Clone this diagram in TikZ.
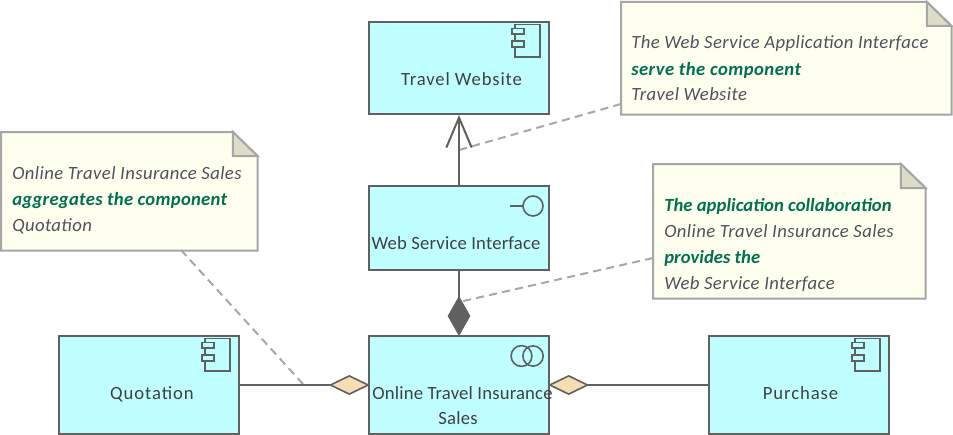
\documentclass[tikz,border=0pt]{standalone}
\usepackage{fontspec}
\setmainfont{Carlito}
\usetikzlibrary{arrows.meta}
\definecolor{boxfill}{HTML}{C0FFFF}
\definecolor{edge}{HTML}{606060}
\definecolor{notefill}{HTML}{FFFFF0}
\definecolor{noteedge}{HTML}{A6A6A6}
\definecolor{foldfill}{HTML}{DCDCC8}
\definecolor{dashc}{HTML}{A8A8A8}
\definecolor{ink}{HTML}{404040}
\definecolor{noteink}{HTML}{505060}
\definecolor{greenink}{HTML}{00704F}
\definecolor{diafill}{HTML}{F7DDB2}
\tikzset{
  x=0.75pt,y=-0.75pt,
  elem/.style={draw=edge,fill=boxfill,line width=1.5pt,rectangle,inner sep=0pt,minimum width=135pt},
  lbl/.style={text=ink,inner sep=0pt,anchor=base,font=\fontsize{14pt}{17pt}\selectfont\addfontfeature{LetterSpace=#1}},
  notebody/.style={rectangle,inner sep=0pt,anchor=north west},
  notetext/.style={anchor=base west,inner sep=0pt,text=noteink,font=\fontsize{14pt}{17pt}\selectfont\itshape\addfontfeature{LetterSpace=2.2}},
  notegreen/.style={anchor=base west,inner sep=0pt,text=greenink,font=\fontsize{14pt}{17pt}\selectfont\itshape\bfseries\addfontfeature{LetterSpace=#1}},
  conn/.style={draw=edge,line width=1.5pt},
  dashlink/.style={draw=dashc,line width=1.5pt,dash pattern=on 6pt off 4pt},
  icon/.style={draw=edge,line width=1.2pt},
  component/.pic={
    \draw[icon] (-35,3.5) rectangle (-10,36);
    \draw[icon,fill=boxfill] (-38,7.5) rectangle (-26,13);
    \draw[icon,fill=boxfill] (-38,20) rectangle (-26,26);
  }
}
\newcommand{\notepath}[1]{%
  \draw[draw=noteedge,fill=notefill,line width=1.5pt] (#1.north west) -- ([xshift=-18.5pt]#1.north east) -- ([yshift=-18pt]#1.north east) -- (#1.south east) -- (#1.south west) -- cycle;
  \draw[draw=noteedge,fill=foldfill,line width=1.5pt] ([xshift=-18.5pt]#1.north east) -- ([yshift=-18pt]#1.north east) -- ([xshift=-18.5pt,yshift=-18pt]#1.north east) -- cycle;
}
\begin{document}
\begin{tikzpicture}
\useasboundingbox (0,0) rectangle (953,435);
\fill[white] (0,0) rectangle (953,435);

% notes
\node[notebody,minimum width=247.5pt,minimum height=84pt] (n1) at (621,2) {};
\node[notebody,minimum width=192pt,minimum height=88.5pt] (n2) at (1,132) {};
\node[notebody,minimum width=204pt,minimum height=100.5pt] (n3) at (653,164) {};
\notepath{n1}
\notepath{n2}
\notepath{n3}
\node[notetext] (n1a) at (631,49) {The Web Service Application Interface};
\node[notegreen=2.5] (n1b) at (631,75) {serve the component};
\node[notetext] (n1c) at (631,101) {Travel Website};
\node[notetext] (n2a) at (12,179) {Online Travel Insurance Sales};
\node[notegreen=1.5] (n2b) at (12,205) {aggregates the component};
\node[notetext] (n2c) at (12,231) {Quotation};
\node[notegreen=0.2] (n3a) at (664,211) {The application collaboration};
\node[notetext] (n3b) at (664,237) {Online Travel Insurance Sales};
\node[notegreen=0.2] (n3c) at (664,263) {provides the};
\node[notetext] (n3d) at (664,289) {Web Service Interface};

% elements
\node[elem,minimum height=69pt] (tw) at (459,68) {};
\node[elem,minimum height=63pt] (ws) at (459,228) {};
\node[elem,minimum height=73.5pt] (ot) at (459,385) {};
\node[elem,minimum height=73.5pt] (qu) at (149,385) {};
\node[elem,minimum height=73.5pt] (pu) at (799,385) {};

% icons
\pic at (tw.north east) {component};
\pic at (qu.north east) {component};
\pic at (pu.north east) {component};
\draw[icon] (533,206) circle (7.5pt);
\draw[icon] (510,206) -- (523,206);
\draw[icon] (521.5,356) circle (7.8pt);
\draw[icon] (533,356) circle (7.6pt);

% dashed note links
\coordinate (c1) at (459,150);
\coordinate (c2) at (303,384);
\coordinate (c3) at (459,302);
\coordinate (s1) at (621,104);
\coordinate (s2) at (181,250);
\coordinate (s3) at (653,258);
\draw[dashlink] (s1) -- (c1);
\draw[dashlink] (s2) -- (c2);
\draw[dashlink] (s3) -- (c3);

% connectors
\draw[conn,-{Straight Barb[length=22.5pt,width=19pt,line width=1.5pt]}] (ws.north) -- (tw.south);
\draw[conn,shorten >=-0.75pt,-{Diamond[length=30pt,width=17pt,fill=edge]}] (ws.south) -- (ot.north);
\draw[conn,line width=1.2pt,shorten >=-1.5pt,-{Diamond[length=31pt,width=15pt,fill=diafill,line width=1.2pt]}] (qu.east) -- (ot.west);
\draw[conn,line width=1.2pt,shorten >=-1.5pt,-{Diamond[length=31pt,width=15pt,fill=diafill,line width=1.2pt]}] (pu.west) -- (ot.east);

% labels
\node[lbl=4.5] (twl) at (461.5,85) {Travel Website};
\node[lbl=1] (wsl) at (456,249) {Web Service Interface};
\node[lbl=1] (otl) at (462.5,399) {Online Travel Insurance};
\node[lbl=1] (ots) at (458,424) {Sales};
\node[lbl=5] (qul) at (152,399) {Quotation};
\node[lbl=5] (pul) at (800.5,399) {Purchase};
\end{tikzpicture}
\end{document}
